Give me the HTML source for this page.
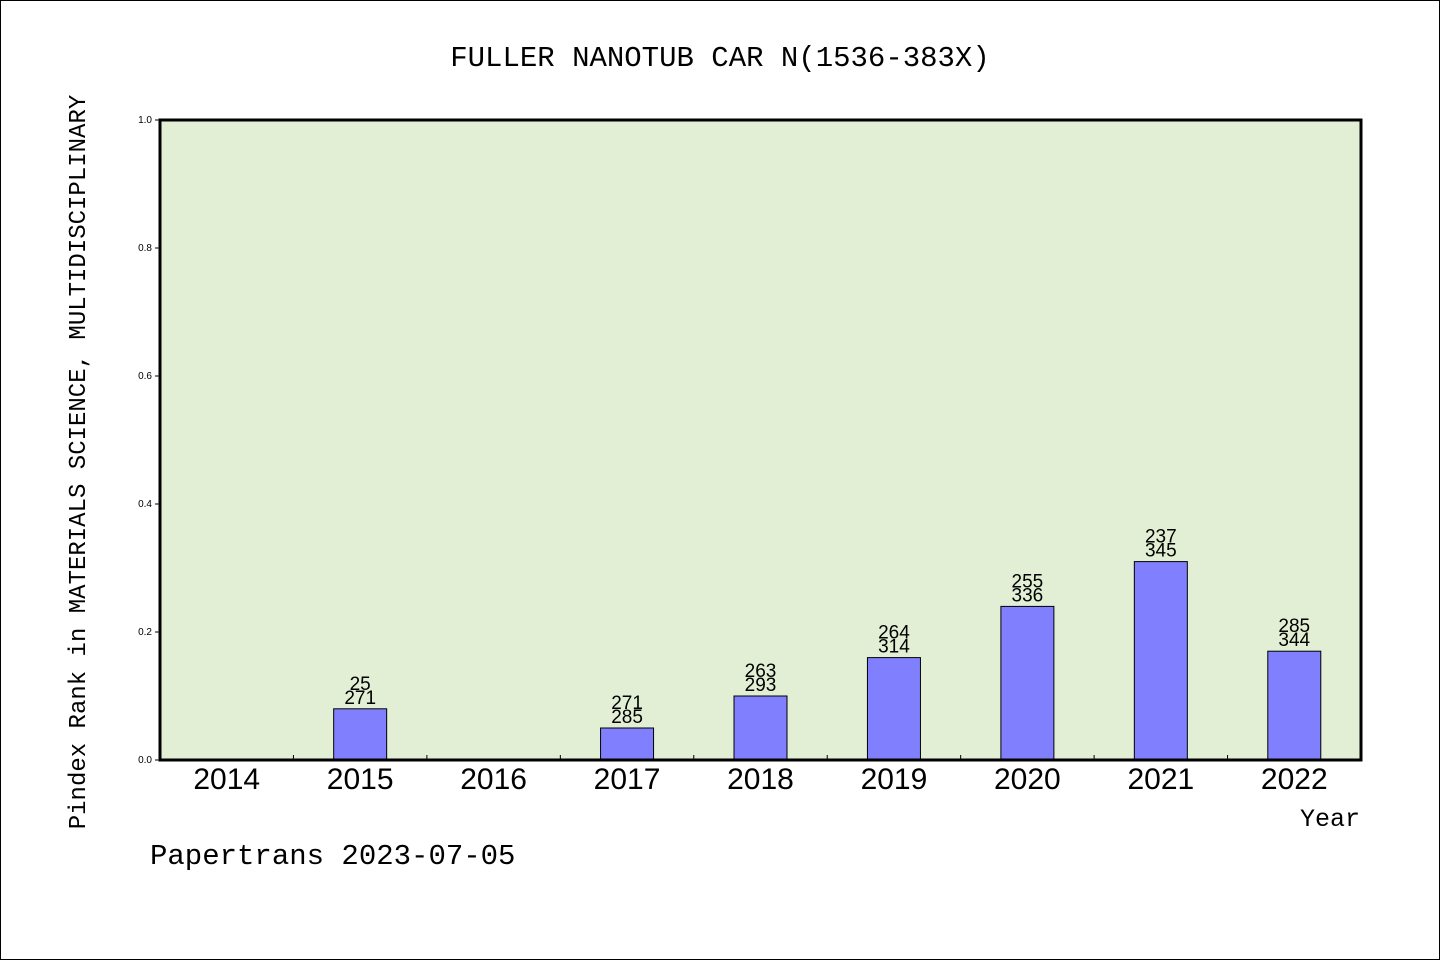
<!DOCTYPE html>
<html><head><meta charset="utf-8"><style>
body{margin:0;background:#fff}
svg{display:block;font-family:"Liberation Sans","WenQuanYi Zen Hei",sans-serif}
</style></head><body>
<svg id="c" width="1440" height="960">
<rect x="0.5" y="0.5" width="1439" height="959" fill="#fff" stroke="#000"/>
<text x="720" y="66" text-anchor="middle" font-size="29" font-family="'WenQuanYi Zen Hei','Liberation Mono',monospace">FULLER NANOTUB CAR N(1536-383X)</text>
<rect x="160" y="120" width="1201" height="640" fill="#e2efd5"/>
<g id="marks"></g>
<rect x="160" y="120" width="1201" height="640" fill="none" stroke="#000" stroke-width="3"/>
<text x="1330" y="826" text-anchor="middle" font-size="25" font-family="'WenQuanYi Zen Hei','Liberation Mono',monospace">Year</text>
<text transform="translate(85,462) rotate(-90)" text-anchor="middle" font-size="24" font-family="'WenQuanYi Zen Hei','Liberation Mono',monospace">Pindex Rank in MATERIALS SCIENCE, MULTIDISCIPLINARY</text>
<text x="150" y="864" font-size="29" font-family="'WenQuanYi Zen Hei','Liberation Mono',monospace">Papertrans 2023-07-05</text>
</svg>
<script>
const categories=["2014","2015","2016","2017","2018","2019","2020","2021","2022"];
const values=[0,0.08,0,0.05,0.1,0.16,0.24,0.31,0.17];
const rankTop=["","25","","271","263","264","255","237","285"];
const rankBottom=["","271","","285","293","314","336","345","344"];
const yTicks=[0,0.2,0.4,0.6,0.8,1.0];
const X0=160,X1=1361,Y0=760,Y1=120;
const bw=(X1-X0)/categories.length;
const xc=i=>X0+bw*(i+0.5);
const y=v=>Y0-(v)*(Y0-Y1);
const g=document.getElementById('marks');
const NS='http://www.w3.org/2000/svg';
function mk(t,a){const e=document.createElementNS(NS,t);for(const k in a)e.setAttribute(k,a[k]);g.appendChild(e);return e;}
yTicks.forEach(v=>{
  const l=mk('line',{x1:155,x2:160,y1:y(v),y2:y(v),stroke:'#000'});
  
  
  const t=mk('text',{x:152,y:y(v)+3,'text-anchor':'end','font-size':10});
  t.textContent=v.toFixed(1);
  
  
});
categories.forEach((c,i)=>{
  if(i>0){const tk=mk('line',{x1:X0+bw*i,x2:X0+bw*i,y1:Y0,y2:Y0-5,stroke:'#000'});
  
  }
  const t=mk('text',{x:xc(i),y:789,'text-anchor':'middle','font-size':30});
  t.textContent=c;
  
  
  if(values[i]>0){
    const b=mk('rect',{x:xc(i)-26.5,y:y(values[i]),width:53,height:Y0-y(values[i]),fill:'#8080ff',stroke:'#000','stroke-width':1});
    
    
    const t1=mk('text',{x:xc(i),y:y(values[i])-19,'text-anchor':'middle','font-size':19});
    t1.textContent=rankTop[i];
    
    
    const t2=mk('text',{x:xc(i),y:y(values[i])-5,'text-anchor':'middle','font-size':19});
    t2.textContent=rankBottom[i];
    
    
  }
});
</script>
</body></html>
